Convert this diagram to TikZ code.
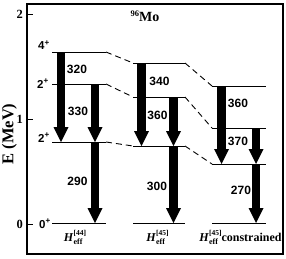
\documentclass[tikz,border=0pt]{standalone}
\usepackage{fontspec}
\setmainfont{Liberation Serif}
\setsansfont{Liberation Sans}
\usetikzlibrary{arrows.meta}
\begin{document}
\begin{tikzpicture}[x=1pt,y=-1pt,
  levline/.style={line width=1pt},
  linkline/.style={line width=0.9pt,dash pattern=on 6pt off 4pt},
  trans/.style={line width=8.5pt,-{Triangle[width=15pt,length=15pt,line width=0pt]}},
  val/.style={font=\sffamily\bfseries\fontsize{12}{12}\selectfont,inner sep=0pt},
  levlab/.style={font=\sffamily\bfseries\fontsize{11.5}{11.5}\selectfont,inner sep=0pt,anchor=base east},
  ticklab/.style={font=\bfseries\fontsize{12.5}{12.5}\selectfont,inner sep=0pt,anchor=east},
  hlab/.style={font=\bfseries\fontsize{12}{12}\selectfont,inner sep=0pt,anchor=base}]
\useasboundingbox (0,0) rectangle (286,258);
\newcommand{\heff}[1]{\textit{H}\rlap{\raisebox{5.5pt}{\fontsize{7.5}{7.5}\selectfont[#1]}}\raisebox{-3pt}{\makebox[12.5pt][l]{\fontsize{8}{8}\selectfont eff}}}
% frame and ticks
\draw[line width=1.6pt] (27,4) rectangle (283,254);
\foreach \yy/\lab in {14/2,119/1,224/0}{
  \draw[line width=1pt] (27,\yy) -- (33,\yy);
  \node[ticklab] at (23,\yy) {\lab};
}
\node[rotate=90,anchor=base,inner sep=0pt,font=\bfseries\fontsize{16.5}{16.5}\selectfont] (elab) at (13.3,134) {E (MeV)};
\node[anchor=base,inner sep=0pt,font=\bfseries\fontsize{14}{14}\selectfont] (title) at (145,21.5) {\raisebox{5.5pt}{\fontsize{8.5}{8.5}\selectfont 96}Mo};
% level coordinates
\foreach \s/\xl/\xr/\ya/\yb/\yc in {1/52/106/52/84/142, 2/133/185/63/97/146, 3/212/266/86/128/164}{
  \coordinate (s\s la) at (\xl,\ya); \coordinate (s\s ra) at (\xr,\ya);
  \coordinate (s\s lb) at (\xl,\yb); \coordinate (s\s rb) at (\xr,\yb);
  \coordinate (s\s lc) at (\xl,\yc); \coordinate (s\s rc) at (\xr,\yc);
  \coordinate (s\s lg) at (\xl,223); \coordinate (s\s rg) at (\xr,223);
  \draw[levline] (s\s la) -- (s\s ra);
  \draw[levline] (s\s lb) -- (s\s rb);
  \draw[levline] (s\s lc) -- (s\s rc);
  \draw[levline] (s\s lg) -- (s\s rg);
}
\foreach \k in {a,b,c}{
  \draw[linkline] (s1r\k) -- (s2l\k);
  \draw[linkline] (s2r\k) -- (s3l\k);
}
% level labels
\node[levlab] (l4) at (50,49.5) {4\textsuperscript{+}};
\node[levlab] (l2b) at (49,88) {2\textsuperscript{+}};
\node[levlab] (l2a) at (50,142) {2\textsuperscript{+}};
\node[levlab] (l0) at (51,228) {0\textsuperscript{+}};
% transition coordinates
\coordinate (a1s) at (61,52);    \coordinate (a1e) at (61,142);
\coordinate (a2s) at (95,84);    \coordinate (a2e) at (95,142);
\coordinate (a3s) at (95,142);   \coordinate (a3e) at (95,223);
\coordinate (b1s) at (141.5,63); \coordinate (b1e) at (141.5,146);
\coordinate (b2s) at (173.5,97); \coordinate (b2e) at (173.5,146);
\coordinate (b3s) at (173.5,146);\coordinate (b3e) at (173.5,223);
\coordinate (c1s) at (221.5,86); \coordinate (c1e) at (221.5,164);
\coordinate (c2s) at (256,128);  \coordinate (c2e) at (256,164);
\coordinate (c3s) at (256,164);  \coordinate (c3e) at (256,223);
\foreach \t in {a1,a2,a3,b1,b2,b3,c1,c2,c3}{
  \draw[trans] (\t s) -- (\t e);
}
% values
\node[val] (v1) at (77,69.5) {320};
\node[val] (v2) at (78,111) {330};
\node[val] (v3) at (77.5,181.5) {290};
\node[val] (v4) at (159.5,81) {340};
\node[val] (v5) at (157.5,115.5) {360};
\node[val] (v6) at (157,186.5) {300};
\node[val] (v7) at (238,103.5) {360};
\node[val] (v8) at (238,141) {370};
\node[val] (v9) at (241,190.5) {270};
% bottom labels
\node[hlab] (h1) at (75,241) {\heff{44}};
\node[hlab] (h2) at (157.5,241) {\heff{45}};
\node[hlab] (h3) at (240.5,241) {\heff{45}constrained};
\end{tikzpicture}
\end{document}
